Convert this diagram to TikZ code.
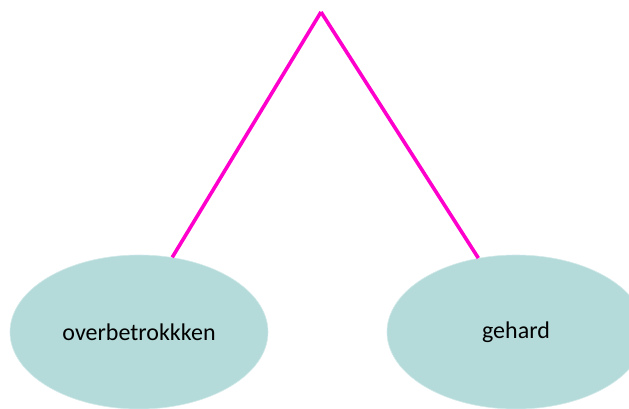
\documentclass[tikz,border=0pt]{standalone}
\usepackage{fontspec}
\setmainfont{Carlito}
\usetikzlibrary{shapes.geometric}
\definecolor{ellfill}{HTML}{B4DBDA}
\definecolor{linkcol}{HTML}{FF00CC}
\tikzset{
  leaf/.style={ellipse, fill=ellfill, draw=ellfill!60!white, line width=0.6pt, minimum width=258pt, minimum height=154pt, inner sep=0pt, font=\fontsize{24pt}{28pt}\selectfont},
  link/.style={draw=linkcol, line width=3.6pt}
}
\begin{document}
\begin{tikzpicture}[x=1pt,y=-1pt]
\useasboundingbox (0,0) rectangle (629,408);
\coordinate (apex) at (321,12);
\node[leaf] (l) at (139,332) {overbetrokkken};
\node[leaf] (r) at (516,332) {gehard};
\draw[link] (apex) -- (l.66);
\draw[link] (apex) -- (r.117);
\end{tikzpicture}
\end{document}
